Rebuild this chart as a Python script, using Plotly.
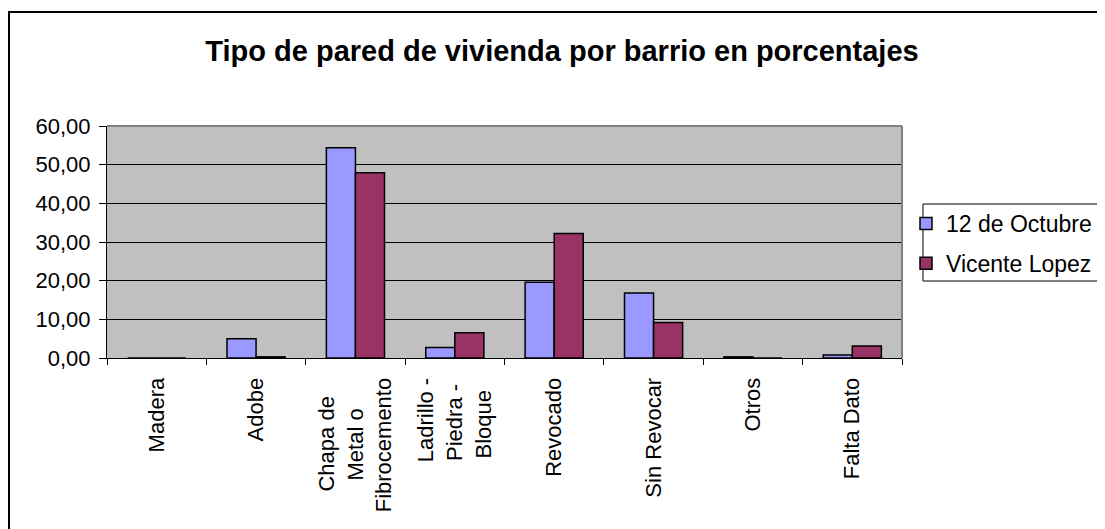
import plotly.graph_objects as go

NB = "\u00a0"
categories = ["Madera", "Adobe", "Chapa de Metal o Fibrocemento",
              "Ladrillo - Piedra - Bloque", "Revocado", "Sin Revocar",
              "Otros", "Falta Dato"]
tick_labels = ["Madera", "Adobe",
               "Chapa de" + NB * 3 + "<br>Metal o" + NB * 5 + "<br>Fibrocemento",
               "Ladrillo -<br>Piedra -" + NB * 1 + "<br>Bloque" + NB * 2,
               "Revocado", "Sin Revocar", "Otros", "Falta Dato"]
octubre = [0.0, 5.0, 54.4, 2.7, 19.6, 16.8, 0.3, 0.8]
vicente = [0.0, 0.3, 47.9, 6.5, 32.2, 9.2, 0.0, 3.1]
series_names = ["12 de Octubre", "Vicente Lopez"]
title_text = "Tipo de pared de vivienda por barrio en porcentajes"
y_ticks = [0, 10, 20, 30, 40, 50, 60]

FONT = "Liberation Sans, Arial, sans-serif"
OFF = 8  # page body margin offset
W, H = 1105 - OFF, 529 - OFF
L, R, T, B = 107 - OFF, 902 - OFF, 126 - OFF, 358 - OFF  # plot area in figure pixels


def px_x(p):
    return (p - OFF - L) / (R - L)


def px_y(p):
    return (B - (p - OFF)) / (B - T)


fig = go.Figure()
fig.add_trace(go.Bar(x=categories, y=octubre, name=series_names[0], legendgroup="a",
                     marker=dict(color="#9999FF", line=dict(color="black", width=1.5))))
fig.add_trace(go.Bar(x=categories, y=vicente, name=series_names[1], legendgroup="b",
                     marker=dict(color="#993366", line=dict(color="black", width=1.5))))

fig.update_layout(
    width=W, height=H,
    margin=dict(l=L, r=W - R, t=T, b=H - B, autoexpand=False),
    paper_bgcolor="white", plot_bgcolor="#C0C0C0",
    separators=",.",
    barmode="group", bargap=0.415, bargroupgap=0,
    font=dict(family=FONT, color="black", size=22),
    title=dict(text="<b>" + title_text + "</b>", x=(562 - OFF) / W, xref="container",
               xanchor="center", y=1 - (51 - OFF) / H, yref="container", yanchor="middle",
               font=dict(family=FONT, size=29, color="black")),
    legend=dict(x=px_x(906), y=px_y(202), xanchor="left", yanchor="top",
                bgcolor="rgba(0,0,0,0)", borderwidth=0, tracegroupgap=7,
                font=dict(family=FONT, size=23, color="black")),
    showlegend=True,
)

fig.update_xaxes(type="category", tickangle=-90, tickson="boundaries",
                 tickvals=categories, ticktext=tick_labels,
                 ticks="outside", ticklen=6, tickcolor="black", tickwidth=1,
                 ticklabelstandoff=10,
                 showline=True, linecolor="black", linewidth=1, showgrid=False,
                 tickfont=dict(family=FONT, size=22, color="black"))
fig.update_yaxes(range=[0, 60], tickvals=y_ticks, tickformat=".2f",
                 ticks="outside", ticklen=7, tickcolor="black", tickwidth=1,
                 ticklabelstandoff=4,
                 showline=True, linecolor="black", linewidth=1,
                 showgrid=True, gridcolor="black", gridwidth=1, zeroline=False,
                 tickfont=dict(family=FONT, size=22, color="black"))

# grey top and right border of the plot area
fig.add_shape(type="line", xref="paper", yref="paper", x0=0, x1=1, y0=1, y1=1,
              line=dict(color="#808080", width=2), layer="above")
fig.add_shape(type="line", xref="paper", yref="paper", x0=1, x1=1, y0=0, y1=1,
              line=dict(color="#808080", width=2), layer="above")
# legend box
fig.add_shape(type="rect", xref="paper", yref="paper",
              x0=px_x(923), x1=px_x(1125), y0=px_y(281), y1=px_y(204),
              line=dict(color="black", width=1), fillcolor="rgba(0,0,0,0)", layer="above")
# outer chart frame
fig.add_shape(type="rect", xref="paper", yref="paper",
              x0=px_x(9), x1=px_x(1130), y0=px_y(560), y1=px_y(12),
              line=dict(color="black", width=2), fillcolor="rgba(0,0,0,0)", layer="above")

fig.write_html("out.html", post_script="document.documentElement.style.overflow='hidden';"
                                       "document.body.style.overflow='hidden';")
